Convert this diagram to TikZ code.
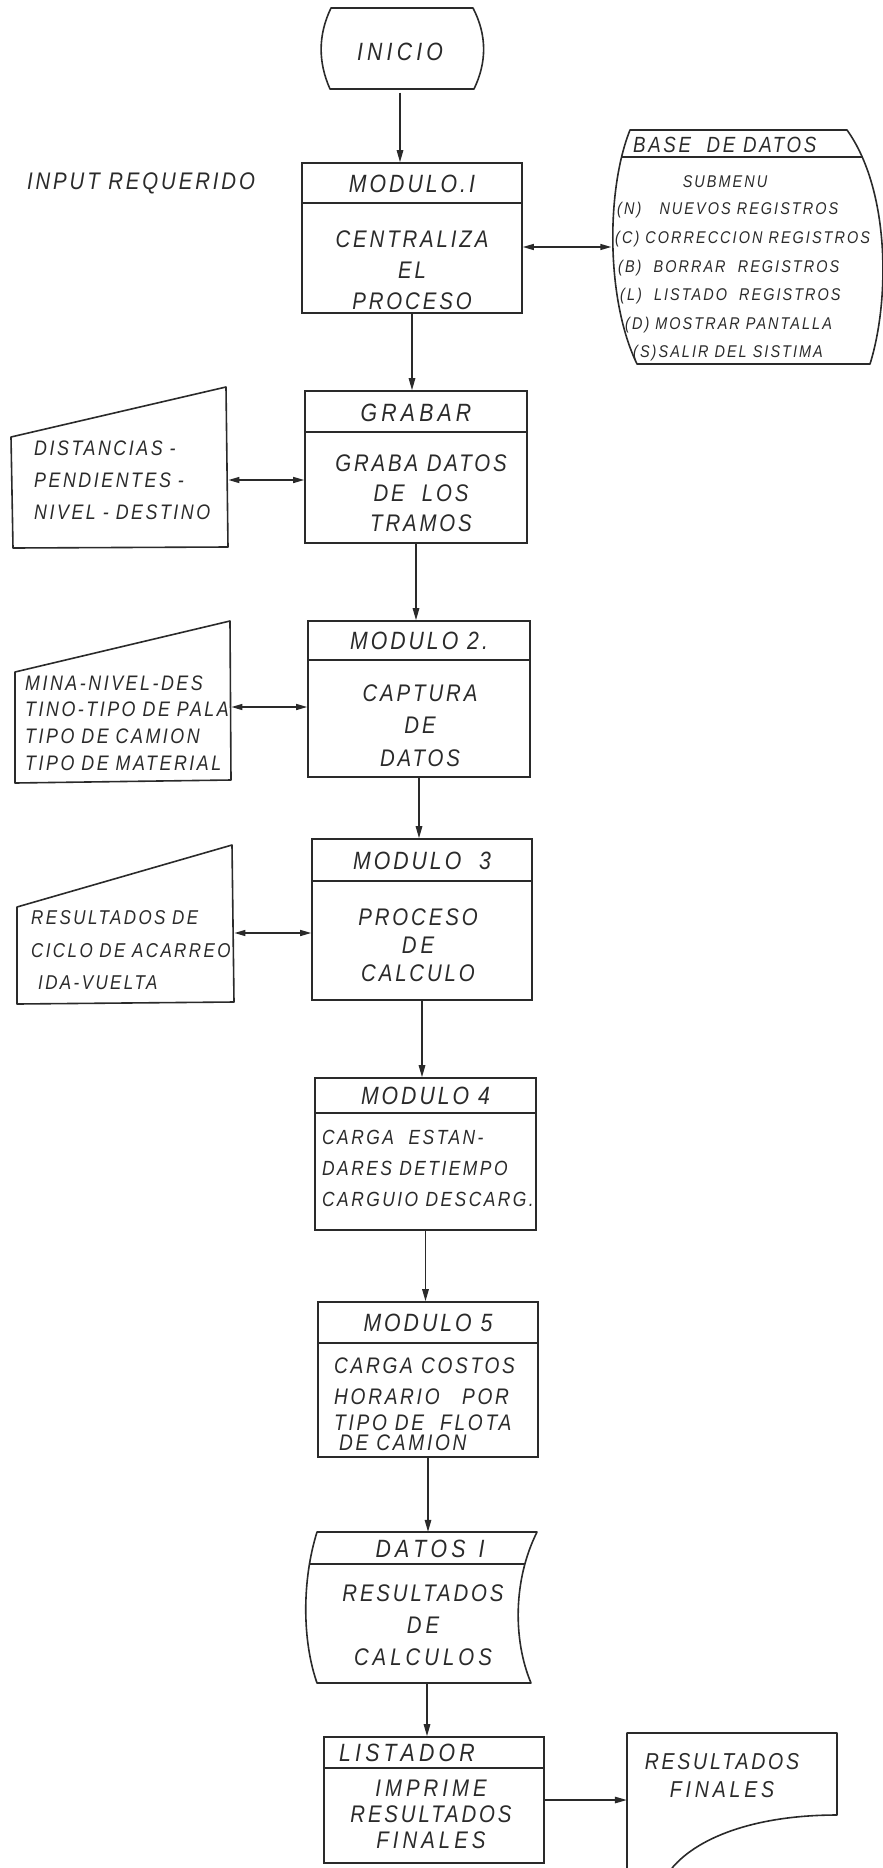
\documentclass[tikz,border=0pt]{standalone}
\usepackage{fontspec}
\newfontfamily\lettering{Liberation Sans}[LetterSpace=12, FakeStretch=0.85]
\newcommand\handfont[2]{\lettering\itshape\fontsize{#1}{#2}\selectfont}
\usetikzlibrary{positioning,arrows.meta}
\definecolor{ink}{HTML}{2A2A2A}

\begin{document}
\begin{tikzpicture}[x=1pt, y=-1pt, color=ink,
    every node/.style={inner sep=0pt, font=\handfont{24}{30}},
    box/.style={draw, line width=1.6pt, minimum width=220pt},
    outline/.style={draw, line width=1.6pt, line join=round},
    divider/.style={line width=1.4pt},
    head/.style={font=\handfont{25}{30}},
    body/.style={align=center, font=\handfont{24}{#1}},
    body/.default=30,
    trapin/.style={align=left, anchor=west, font=\handfont{21}{#1}},
    menu/.style={anchor=west, font=\handfont{17}{20}},
    arrow/.style={-{Triangle[length=12pt,width=6.5pt]}, line width=1.4pt},
    dblarrow/.style={{Triangle[length=11pt,width=6pt]}-{Triangle[length=11pt,width=6pt]}, line width=1.4pt},
]
\useasboundingbox (0,0) rectangle (883,1868);

% --- start terminal ---
\draw[outline] (331,8) -- (473,8) .. controls (487,35) and (487,62) .. (474,89)
   -- (330,89) .. controls (318,62) and (318,35) .. (331,8) -- cycle;
\node[minimum width=161pt, minimum height=81pt, font=\handfont{25}{30}] (inicio) at (400,52) {I\,N\,I\,C\,I\,O};

\node (input) at (141,183) {INPUT REQUERIDO};

% --- Modulo I ---
\node[box, minimum height=150pt] (m1) at (412,238) {};
\draw[divider] (m1.north west |- 0,203) -- (m1.north east |- 0,203);
\node[head] (m1h) at (412,184) {MODULO.I};
\node[body=31] (m1b) at (412,270) {CENTRALIZA\\EL\\PROCESO};

% --- base de datos (barrel) ---
\draw[outline] (630,130) -- (847,130) .. controls (890,190) and (890,300) .. (870,364)
   -- (637,364) .. controls (606,300) and (606,190) .. (630,130) -- cycle;
\draw[divider] (622,157) -- (862,157);
\node[minimum width=270pt, minimum height=234pt] (base) at (746.5,247) {};
\node[anchor=west, font=\handfont{22}{26}] (baseh) at (633,145) {BASE\ \ DE DATOS};
\node[font=\handfont{17}{20}] (submenu) at (725,182) {SUBMENU};
\foreach \bx/\by/\btxt [count=\k] in {617/210/{(N)\ \ \ NUEVOS REGISTROS},
    615/239/{(C) CORRECCION REGISTROS}, 618/268/{(B)\ \ BORRAR\ \ REGISTROS},
    620/296/{(L)\ \ LISTADO\ \ REGISTROS}, 625/325/{(D) MOSTRAR PANTALLA},
    633/353/{(S)SALIR DEL SISTIMA}}
  \node[menu] (opt\k) at (\bx,\by) {\btxt};

% --- Grabar ---
\node[box, minimum width=222pt, minimum height=152pt] (grabar) at (416,467) {};
\draw[divider] (grabar.north west |- 0,432) -- (grabar.north east |- 0,432);
\node[head] (grabarh) at (416,413) {G\,R\,A\,B\,A\,R};
\node[body] (grabarb) at (421,493) {GRABA DATOS\\DE\ \ LOS\\TRAMOS};

\draw[outline] (11,437) -- (226,387) -- (228,547) -- (13,548) -- cycle;
\node[trapin=32, text width=194pt] (dist) at (34,480)
  {DISTANCIAS -\\PENDIENTES -\\NIVEL - DESTINO};

% --- Modulo 2 ---
\node[box, minimum width=222pt, minimum height=156pt] (m2) at (419,699) {};
\draw[divider] (m2.north west |- 0,660) -- (m2.north east |- 0,660);
\node[head] (m2h) at (419,641) {MODULO 2.};
\node[body=32.5] (m2b) at (420,725.5) {CAPTURA\\DE\\DATOS};

\draw[outline] (15,672) -- (230,621) -- (231,780) -- (15,783) -- cycle;
\node[trapin=26.7, text width=206pt] (mina) at (25,723)
  {MINA-NIVEL-DES\\TINO-TIPO~DE~PALA\\TIPO~DE~CAMION\\TIPO~DE~MATERIAL};

% --- Modulo 3 ---
\node[box, minimum height=161pt] (m3) at (422,919.5) {};
\draw[divider] (m3.north west |- 0,881) -- (m3.north east |- 0,881);
\node[head] (m3h) at (422,861) {MODULO\ \ 3};
\node[body=28] (m3b) at (418,945) {PROCESO\\D\,E\\CALCULO};

\draw[outline] (17,907) -- (232,845) -- (234,1002) -- (17,1004) -- cycle;
\node[trapin=32.5, text width=203pt, font=\handfont{20}{32.5}] (res) at (31,950.5)
  {RESULTADOS~DE\\CICLO~DE~ACARREO\\\hspace*{7pt}IDA-VUELTA};

% --- Modulo 4 ---
\node[box, minimum width=221pt, minimum height=152pt] (m4) at (425.5,1154) {};
\draw[divider] (m4.north west |- 0,1113) -- (m4.north east |- 0,1113);
\node[head] (m4h) at (425.5,1096) {MODULO 4};
\node[align=left, anchor=west, font=\handfont{20.5}{31}] (m4b) at (322,1168)
  {CARGA\ \ ESTAN-\\DARES DETIEMPO\\CARGUIO DESCARG.};

% --- Modulo 5 ---
\node[box, minimum height=155pt] (m5) at (428,1379.5) {};
\draw[divider] (m5.north west |- 0,1343) -- (m5.north east |- 0,1343);
\node[head] (m5h) at (428,1323) {MODULO 5};
\node[align=left, anchor=west, font=\handfont{22.5}{31}] (m5b) at (334,1404)
  {CARGA COSTOS\\HORARIO\quad POR\\[-5pt]TIPO DE\ \ FLOTA\\[-11pt]\hspace*{5pt}DE CAMION};

% --- Datos I (stored data) ---
\draw[outline] (317,1532) -- (537,1532) .. controls (513,1580) and (513,1640) .. (531,1683)
   -- (317,1683) .. controls (302,1640) and (302,1580) .. (317,1532) -- cycle;
\draw[divider] (310,1564) -- (525,1564);
\node[minimum width=220pt, minimum height=151pt] (datos) at (427,1607.5) {};
\node[head] (datosh) at (430,1549) {D\,A\,T\,O\,S\,\ I};
\node[body=32] (datosb) at (423,1625) {RESULTADOS\\D\,E\\C\,A\,L\,C\,U\,L\,O\,S};

% --- Listador ---
\node[box, minimum height=126pt] (list) at (434,1800) {};
\draw[divider] (list.north west |- 0,1768) -- (list.north east |- 0,1768);
\node[head, anchor=west] (listh) at (339,1753) {L\,I\,S\,T\,A\,D\,O\,R};
\node[body=26] (listb) at (431,1814) {I\,M\,P\,R\,I\,M\,E\\RESULTADOS\\F\,I\,N\,A\,L\,E\,S};

% --- Resultados finales (document) ---
\draw[outline] (627,1868) -- (627,1733) -- (837,1733) -- (837,1815)
   .. controls (760,1815) and (700,1835) .. (672,1868);
\node[minimum width=210pt, minimum height=134pt] (resfin) at (732,1800) {};
\node[body=28, font=\handfont{23}{28}] (resfint) at (722,1776) {RESULTADOS\\F\,I\,N\,A\,L\,E\,S};

% --- connectors ---
\draw[arrow] (inicio.south) -- (inicio.south |- m1.north);
\draw[arrow] (m1.south) -- (m1.south |- grabar.north);
\draw[arrow] (grabar.south) -- (grabar.south |- m2.north);
\draw[arrow] (m2.south) -- (m2.south |- m3.north);
\draw[arrow] (m3.south) -- (m3.south |- m4.north);
\draw[arrow] (m4.south) -- (m4.south |- m5.north);
\draw[arrow] (m5.south) -- (m5.south |- datos.north);
\draw[arrow] (datos.south) -- (datos.south |- list.north);
\draw[arrow] (list.east) -- (list.east -| resfin.west);
\draw[dblarrow] (m1.east |- base.west) -- (base.west);
\draw[dblarrow] (dist.east) -- (dist.east -| grabar.west);
\draw[dblarrow] ([yshift=16pt]mina.east) -- ([yshift=16pt]mina.east -| m2.west);
\draw[dblarrow] ([yshift=17.5pt]res.east) -- ([yshift=17.5pt]res.east -| m3.west);

\end{tikzpicture}
\end{document}
